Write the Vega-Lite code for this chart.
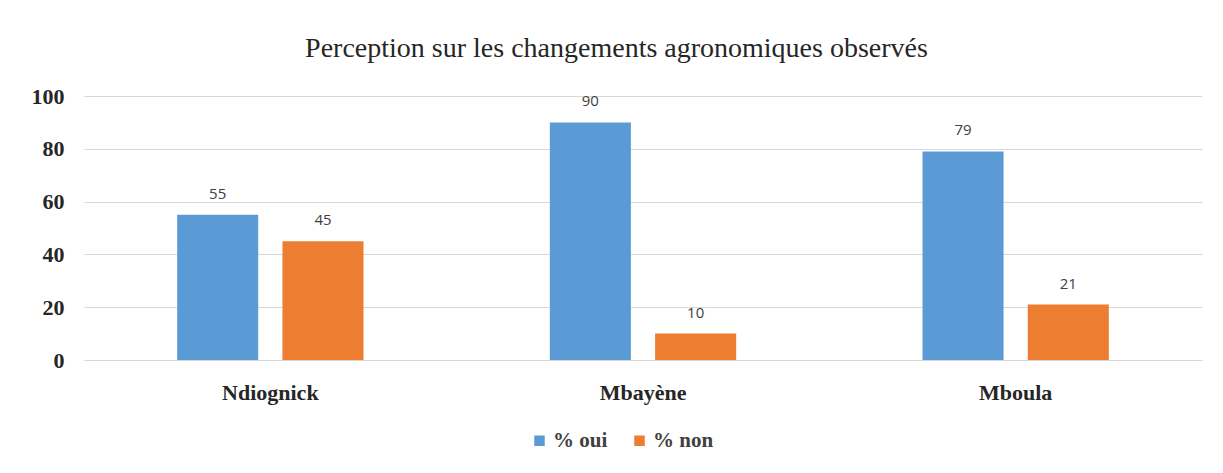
{
  "$schema": "https://vega.github.io/schema/vega-lite/v6.json",
  "autosize": "none",
  "width": 1118,
  "height": 264,
  "padding": {"left": 84, "top": 96, "right": 21, "bottom": 113},
  "background": "white",
  "config": {"view": {"stroke": null}},
  "title": {
    "text": "Perception sur les changements agronomiques observés",
    "font": "Liberation Serif",
    "fontSize": 28,
    "fontWeight": "normal",
    "color": "#262626",
    "anchor": "middle",
    "frame": "bounds",
    "offset": 22
  },
  "data": {
    "values": [
      {"site": "Ndiognick", "serie": "% oui", "valeur": 55},
      {"site": "Ndiognick", "serie": "% non", "valeur": 45},
      {"site": "Mbayène", "serie": "% oui", "valeur": 90},
      {"site": "Mbayène", "serie": "% non", "valeur": 10},
      {"site": "Mboula", "serie": "% oui", "valeur": 79},
      {"site": "Mboula", "serie": "% non", "valeur": 21}
    ]
  },
  "encoding": {
    "x": {
      "field": "site",
      "type": "nominal",
      "sort": ["Ndiognick", "Mbayène", "Mboula"],
      "scale": {"paddingInner": 0.5, "paddingOuter": 0.25},
      "axis": {
        "title": null,
        "labelAngle": 0,
        "labelFont": "Liberation Serif",
        "labelFontSize": 22,
        "labelFontWeight": "bold",
        "labelColor": "#262626",
        "labelPadding": 22,
        "ticks": false,
        "domainColor": "#d9d9d9",
        "grid": false
      }
    },
    "xOffset": {
      "field": "serie",
      "type": "nominal",
      "sort": ["% oui", "% non"],
      "scale": {"paddingInner": 0.23, "paddingOuter": 0}
    },
    "y": {
      "field": "valeur",
      "type": "quantitative",
      "scale": {"domain": [0, 100]},
      "axis": {
        "title": null,
        "values": [0, 20, 40, 60, 80, 100],
        "labelFont": "Liberation Serif",
        "labelFontSize": 22,
        "labelFontWeight": "bold",
        "labelColor": "#262626",
        "labelPadding": 20,
        "ticks": false,
        "domain": false,
        "gridColor": "#d9d9d9",
        "gridWidth": 1.2
      }
    }
  },
  "layer": [
    {
      "mark": {"type": "bar"},
      "encoding": {
        "color": {
          "field": "serie",
          "type": "nominal",
          "sort": ["% oui", "% non"],
          "scale": {"domain": ["% oui", "% non"], "range": ["#5b9bd5", "#ed7d31"]},
          "legend": {
            "title": null,
            "orient": "none",
            "direction": "horizontal",
            "legendX": 445,
            "legendY": 334,
            "symbolType": "square",
            "symbolSize": 110,
            "symbolStrokeWidth": 0,
            "symbolOpacity": 1,
            "labelFont": "Liberation Serif",
            "labelFontSize": 21,
            "labelFontWeight": "bold",
            "labelColor": "#404040",
            "labelOffset": 3,
            "columnPadding": 21
          }
        }
      }
    },
    {
      "mark": {
        "type": "text",
        "baseline": "bottom",
        "dy": -13,
        "font": "Open Sans",
        "fontSize": 15,
        "color": "#404040"
      },
      "encoding": {
        "text": {"field": "valeur", "type": "quantitative"}
      }
    }
  ]
}
